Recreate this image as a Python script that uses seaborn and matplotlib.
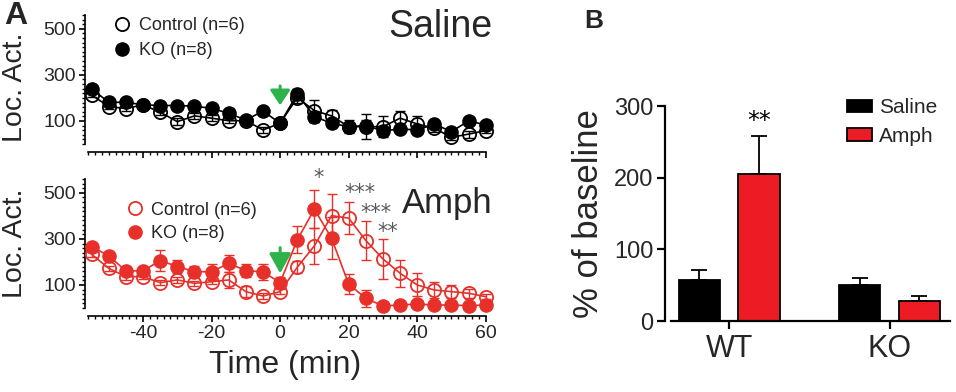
import numpy as np
import pandas as pd
import matplotlib
matplotlib.use('Agg')
import matplotlib.pyplot as plt
from matplotlib.lines import Line2D
from matplotlib.ticker import MultipleLocator, FixedLocator
import seaborn as sns

# ---- data ----
time = [-55, -50, -45, -40, -35, -30, -25, -20, -15, -10, -5, 0,
        5, 10, 15, 20, 25, 30, 35, 40, 45, 50, 55, 60]

sal_ctrl = [213, 162, 154, 170, 138, 97, 122, 112, 101, 101, 61, 90,
            201, 145, 122, 75, 75, 75, 112, 87, 68, 29, 43, 58]
sal_ctrl_sem = [10, 10, 10, 10, 10, 15, 12, 12, 12, 12, 12, 12,
                25, 48, 25, 15, 55, 45, 33, 33, 15, 12, 15, 12]
sal_ko = [239, 181, 181, 170, 167, 167, 164, 155, 133, 104, 143, 90,
          217, 119, 90, 75, 80, 57, 65, 61, 86, 54, 100, 83]
sal_ko_sem = [12, 12, 12, 12, 12, 12, 12, 15, 20, 15, 12, 15,
              20, 25, 15, 28, 25, 12, 12, 12, 12, 12, 10, 12]

amph_ctrl = [233, 172, 136, 136, 110, 122, 107, 114, 122, 71, 52, 71,
             177, 270, 401, 390, 293, 213, 151, 100, 78, 71, 64, 49]
amph_ctrl_sem = [12, 10, 15, 12, 12, 12, 12, 10, 36, 25, 12, 12,
                 27, 78, 95, 70, 85, 86, 58, 50, 33, 29, 20, 12]
amph_ko = [267, 226, 161, 161, 206, 180, 158, 157, 194, 162, 157, 110,
           296, 429, 303, 104, 42, 9, 13, 17, 13, 13, 10, 13]
amph_ko_sem = [15, 15, 15, 15, 47, 30, 25, 35, 38, 28, 36, 25,
               58, 82, 90, 45, 36, 8, 8, 8, 8, 8, 8, 8]

genotypes = ['WT', 'WT', 'KO', 'KO']
treatments = ['Saline', 'Amph', 'Saline', 'Amph']
pct_baseline = [58, 206, 50, 28]
pct_sem = [13, 52, 10, 7]

sns.set_theme(style='ticks')
plt.rcParams['font.family'] = ['Liberation Sans', 'DejaVu Sans']
plt.rcParams['axes.unicode_minus'] = False

RED = '#e8302a'
BAR_RED = '#ed1c24'
GREEN = '#2db34a'

fig = plt.figure(figsize=(9.56, 3.92), dpi=100)
ax_sal = fig.add_axes([0.0887, 0.6327, 0.423, 0.329])
ax_amp = fig.add_axes([0.0887, 0.2143, 0.423, 0.329])
ax_bar = fig.add_axes([0.6956, 0.181, 0.302, 0.548])


def time_panel(ax, ctrl, ctrl_sem, ko, ko_sem, color):
    sns.lineplot(x=time, y=ctrl, ax=ax, color=color, lw=1.2, marker='o',
                 markersize=9.5, markerfacecolor='none', markeredgecolor=color,
                 markeredgewidth=1.3, errorbar=None, clip_on=False, zorder=3)
    sns.lineplot(x=time, y=ko, ax=ax, color=color, lw=1.2, marker='o',
                 markersize=9.5, markerfacecolor=color, markeredgecolor=color,
                 markeredgewidth=1.0, errorbar=None, clip_on=False, zorder=4)
    ax.errorbar(time, ctrl, yerr=ctrl_sem, fmt='none', ecolor=color,
                elinewidth=1.0, capsize=3.5, capthick=1.0, clip_on=False, zorder=2)
    ax.errorbar(time, ko, yerr=ko_sem, fmt='none', ecolor=color,
                elinewidth=1.0, capsize=3.5, capthick=1.0, clip_on=False, zorder=2)

    ax.set_xlim(-57, 61)
    ax.set_ylim(0, 560)
    for s in ['top', 'right']:
        ax.spines[s].set_visible(False)
    for s in ['left', 'bottom']:
        ax.spines[s].set_linewidth(1.2)
        ax.spines[s].set_color('black')
    ax.spines['bottom'].set_position(('outward', 6))
    ax.spines['bottom'].set_bounds(-56, 60)
    ax.spines['left'].set_bounds(0, 560)
    ax.xaxis.set_major_locator(FixedLocator([-40, -20, 0, 20, 40, 60]))
    ax.xaxis.set_minor_locator(MultipleLocator(2))
    ax.yaxis.set_major_locator(FixedLocator([100, 300, 500]))
    ax.yaxis.set_minor_locator(MultipleLocator(20))
    ax.tick_params(which='major', length=4.5, width=1.2, color='black',
                   labelsize=14, pad=2)
    ax.tick_params(which='minor', length=2.3, width=1.0, color='black')
    ax.tick_params(axis='x', labelsize=14)
    ax.set_xlabel('')
    ax.set_ylabel('Loc. Act.', fontsize=20.5)

    handles = [Line2D([], [], ls='none', marker='o', markersize=9.5,
                      markerfacecolor='none', markeredgecolor=color, markeredgewidth=1.3),
               Line2D([], [], ls='none', marker='o', markersize=9.5,
                      markerfacecolor=color, markeredgecolor=color)]
    return handles


h = time_panel(ax_sal, sal_ctrl, sal_ctrl_sem, sal_ko, sal_ko_sem, 'black')
ax_sal.yaxis.set_label_coords(-0.14, 0.44)
ax_sal.tick_params(axis='x', labelbottom=False)
ax_sal.legend(h, ['Control (n=6)', 'KO (n=8)'], loc='upper left',
              bbox_to_anchor=(0.055, 1.04), frameon=False, fontsize=13,
              handlelength=0.9, handletextpad=0.45, labelspacing=0.45,
              borderaxespad=0)
ax_sal.text(1.008, 0.907, 'Saline', transform=ax_sal.transAxes, ha='right',
            va='center', fontsize=27)
ax_sal.annotate('', xy=(0, 168), xytext=(0, 252),
                arrowprops=dict(arrowstyle='-|>,head_width=0.5,head_length=0.75',
                                color=GREEN, lw=2.2, shrinkA=0, shrinkB=0))

h = time_panel(ax_amp, amph_ctrl, amph_ctrl_sem, amph_ko, amph_ko_sem, RED)
ax_amp.yaxis.set_label_coords(-0.14, 0.5)
ax_amp.legend(h, ['Control (n=6)', 'KO (n=8)'], loc='upper left',
              bbox_to_anchor=(0.085, 0.88), frameon=False, fontsize=13,
              handlelength=0.9, handletextpad=0.45, labelspacing=0.35,
              borderaxespad=0)
ax_amp.text(1.008, 0.814, 'Amph', transform=ax_amp.transAxes, ha='right',
            va='center', fontsize=25)
ax_amp.annotate('', xy=(0, 150), xytext=(0, 262),
                arrowprops=dict(arrowstyle='-|>,head_width=0.55,head_length=1.0',
                                color=GREEN, lw=2.2, shrinkA=0, shrinkB=0))
star_kw = dict(ha='center', va='center', fontsize=15, color='#5a5a5a',
               family='DejaVu Sans')
ax_amp.text(11.1, 565, '*', **star_kw)
ax_amp.text(23.4, 500, '***', **star_kw)
ax_amp.text(27.9, 412, '***', **star_kw)
ax_amp.text(31.4, 330, '**', **star_kw)

fig.text(0.298, 0.069, 'Time (min)', ha='center', va='center', fontsize=23)
fig.text(0.017, 0.960, 'A', ha='center', va='center', fontsize=23, fontweight='bold')
fig.text(0.621, 0.946, 'B', ha='center', va='center', fontsize=19, fontweight='bold')

# ---- panel B ----
bars = pd.DataFrame({'genotype': genotypes, 'treatment': treatments,
                     'pct': pct_baseline, 'sem': pct_sem})
hue_order = ['Saline', 'Amph']
x_order = ['WT', 'KO']
sns.barplot(data=bars, x='genotype', y='pct', hue='treatment',
            order=x_order, hue_order=hue_order,
            palette={'Saline': 'black', 'Amph': BAR_RED}, width=0.745, gap=0.31,
            edgecolor='black', linewidth=1.3, errorbar=None, saturation=1,
            ax=ax_bar)
bar_conts = list(ax_bar.containers)
for hi, cont in enumerate(bar_conts):
    for xi, patch in enumerate(cont):
        row = bars[(bars.genotype == x_order[xi]) & (bars.treatment == hue_order[hi])]
        xc = patch.get_x() + patch.get_width() / 2
        ax_bar.errorbar(xc, patch.get_height(), yerr=[[0], [row['sem'].iloc[0]]],
                        fmt='none', ecolor='black', elinewidth=1.3, capsize=6,
                        capthick=1.3, zorder=1)
ax_bar.text(0.186, 279, '**', ha='center', va='center', fontsize=17,
            color='black', family='DejaVu Sans')

ax_bar.set_xlim(-0.40, 1.40)
ax_bar.set_ylim(0, 300)
for s in ['top', 'right']:
    ax_bar.spines[s].set_visible(False)
for s in ['left', 'bottom']:
    ax_bar.spines[s].set_linewidth(1.6)
    ax_bar.spines[s].set_color('black')
ax_bar.spines['bottom'].set_bounds(-0.36, 1.38)
ax_bar.set_yticks([0, 100, 200, 300])
ax_bar.tick_params(axis='y', length=5.5, width=1.6, labelsize=17, pad=3, color='black')
ax_bar.tick_params(axis='x', length=5.5, width=1.6, labelsize=22, pad=4, color='black')
ax_bar.set_xlabel('')
ax_bar.set_ylabel('% of baseline', fontsize=25, labelpad=6)
ax_bar.legend(loc='upper left', bbox_to_anchor=(0.6, 1.075), frameon=False,
              fontsize=15, handlelength=1.2, handleheight=0.55,
              handletextpad=0.35, labelspacing=0.45, borderaxespad=0, title=None)

fig.savefig('out.png', dpi=100)
